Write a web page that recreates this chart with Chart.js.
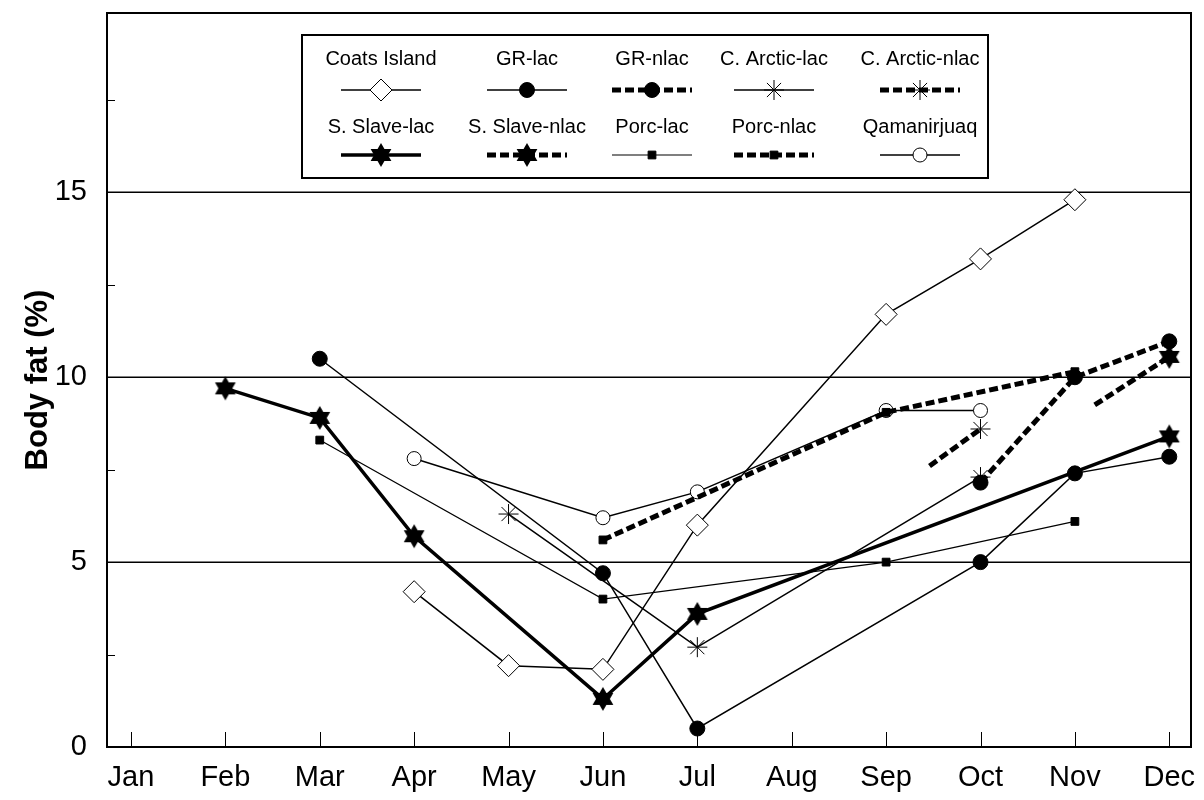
<!DOCTYPE html>
<html>
<head>
<meta charset="utf-8">
<script src="https://cdn.jsdelivr.net/npm/chart.js@4.4.1/dist/chart.umd.min.js"></script>
<style>
  html, body { margin: 0; padding: 0; background: #fff; }
  #wrap { width: 1204px; height: 800px; }
</style>
</head>
<body>
<div id="wrap"><canvas id="fat" width="1204" height="800"></canvas></div>
<script>
// Month names for the x axis (1 = Jan ... 12 = Dec)
const months = ['Jan', 'Feb', 'Mar', 'Apr', 'May', 'Jun', 'Jul', 'Aug', 'Sep', 'Oct', 'Nov', 'Dec'];
const yLabelTicks = [0, 5, 10, 15];
const yMinorTicks = [2.5, 7.5, 12.5, 17.5];

// Body fat (%) by month for each herd / reproductive class
const coatsMonths = [4, 5, 6, 7, 9, 10, 11];
const coatsFat = [4.2, 2.2, 2.1, 6.0, 11.7, 13.2, 14.8];

const grLacMonths = [3, 6, 7, 10, 11, 12];
const grLacFat = [10.5, 4.7, 0.5, 5.0, 7.4, 7.85];

const grNlacMonths = [10, 11, 12];
const grNlacFat = [7.15, 10.0, 10.97];

const cArcticLacMonths = [5, 7, 10];
const cArcticLacFat = [6.3, 2.7, 7.3];

const cArcticNlacMonths = [9.46, 10];
const cArcticNlacFat = [7.6, 8.6];

const sSlaveLacMonths = [2, 3, 4, 6, 7, 12];
const sSlaveLacFat = [9.7, 8.9, 5.7, 1.3, 3.6, 8.4];

const sSlaveNlacMonths = [11.21, 12];
const sSlaveNlacFat = [9.25, 10.55];

const porcLacMonths = [3, 6, 9, 11];
const porcLacFat = [8.3, 4.0, 5.0, 6.1];

const porcNlacMonths = [6, 9, 11];
const porcNlacFat = [5.6, 9.05, 10.15];

const qamMonths = [4, 6, 7, 9, 10];
const qamFat = [7.8, 6.2, 6.9, 9.1, 9.1];

function pairs(xs, ys) {
  return xs.map((m, i) => ({ x: m, y: ys[i] }));
}

// Six-pointed filled star used for the S. Slave series
function makeHexagram(R) {
  const s = Math.ceil(R * 2 + 2);
  const c = document.createElement('canvas');
  c.width = s; c.height = s;
  const g = c.getContext('2d');
  g.fillStyle = '#000';
  const cx = s / 2, cy = s / 2;
  for (let t = 0; t < 2; t++) {
    g.beginPath();
    for (let k = 0; k < 3; k++) {
      const a = -Math.PI / 2 + t * Math.PI + k * 2 * Math.PI / 3;
      const px = cx + R * Math.cos(a), py = cy + R * Math.sin(a);
      if (k) g.lineTo(px, py); else g.moveTo(px, py);
    }
    g.closePath();
    g.fill();
  }
  return c;
}
const hexStar = makeHexagram(12);

const thin = 1.5, thick = 3.5, dashW = 5, dash = [9, 4];

// Marker only where a month was sampled; fractional positions only start a line
const onMonth = (r) => (ctx) => (ctx.raw && Number.isInteger(ctx.raw.x) ? r : 0);

function series(label, xs, ys, style) {
  return Object.assign({
    label,
    data: pairs(xs, ys),
    borderColor: '#000',
    pointBorderColor: '#000',
    backgroundColor: '#000',
    pointBackgroundColor: '#000',
    pointBorderWidth: 1,
    tension: 0,
    fill: false,
  }, style);
}

const datasets = [
  series('Coats Island', coatsMonths, coatsFat,
    { borderWidth: thin, pointStyle: 'rectRot', pointRadius: onMonth(11), pointBackgroundColor: '#fff', pointBorderWidth: 1 }),
  series('GR-lac', grLacMonths, grLacFat,
    { borderWidth: thin, pointStyle: 'circle', pointRadius: onMonth(7.5) }),
  series('GR-nlac', grNlacMonths, grNlacFat,
    { borderWidth: dashW, borderDash: dash, pointStyle: 'circle', pointRadius: onMonth(7.5) }),
  series('C. Arctic-lac', cArcticLacMonths, cArcticLacFat,
    { borderWidth: thin, pointStyle: 'star', pointRadius: onMonth(10), pointBorderWidth: 1 }),
  series('C. Arctic-nlac', cArcticNlacMonths, cArcticNlacFat,
    { borderWidth: dashW, borderDash: dash, pointStyle: 'star', pointRadius: onMonth(10), pointBorderWidth: 1 }),
  series('S. Slave-lac', sSlaveLacMonths, sSlaveLacFat,
    { borderWidth: thick, pointStyle: hexStar, pointRadius: onMonth(12) }),
  series('S. Slave-nlac', sSlaveNlacMonths, sSlaveNlacFat,
    { borderWidth: dashW, borderDash: dash, pointStyle: hexStar, pointRadius: onMonth(12) }),
  series('Porc-lac', porcLacMonths, porcLacFat,
    { borderWidth: 1.2, pointStyle: 'rect', pointRadius: onMonth(5.5) }),
  series('Porc-nlac', porcNlacMonths, porcNlacFat,
    { borderWidth: dashW, borderDash: dash, pointStyle: 'rect', pointRadius: onMonth(5.5) }),
  series('Qamanirjuaq', qamMonths, qamFat,
    { borderWidth: thin, pointStyle: 'circle', pointRadius: onMonth(7), pointBackgroundColor: '#fff', pointBorderWidth: 1 }),
];

// Plot frame, gridlines and inward tick marks
const framePlugin = {
  id: 'frame',
  beforeDatasetsDraw(chart) {
    const { ctx, chartArea: { left, right, top, bottom }, scales: { x, y } } = chart;
    ctx.save();
    ctx.strokeStyle = '#000';
    ctx.lineWidth = 1.5;
    yLabelTicks.filter(v => v > 0).forEach(v => {
      const py = Math.round(y.getPixelForValue(v)) + 0.25;
      ctx.beginPath(); ctx.moveTo(left, py); ctx.lineTo(right, py); ctx.stroke();
    });
    ctx.lineWidth = 1;
    yMinorTicks.forEach(v => {
      const py = Math.round(y.getPixelForValue(v)) + 0.5;
      ctx.beginPath(); ctx.moveTo(left, py); ctx.lineTo(left + 8, py); ctx.stroke();
    });
    months.forEach((m, i) => {
      const px = Math.round(x.getPixelForValue(i + 1)) + 0.5;
      ctx.beginPath(); ctx.moveTo(px, bottom); ctx.lineTo(px, bottom - 15); ctx.stroke();
    });
    ctx.lineWidth = 2;
    ctx.strokeRect(left, top, right - left, bottom - top);
    ctx.restore();
  }
};

// Boxed legend: name above a sample of the line with its marker
const legendPlugin = {
  id: 'boxLegend',
  afterDraw(chart) {
    const ctx = chart.ctx;
    const box = { x: 302, y: 35, w: 686, h: 143 };
    const cols = [381, 527, 652, 774, 920];
    const textY = [59, 127];
    const lineY = [90, 155];
    const half = 40;
    ctx.save();
    ctx.fillStyle = '#fff';
    ctx.fillRect(box.x, box.y, box.w, box.h);
    ctx.strokeStyle = '#000';
    ctx.lineWidth = 2;
    ctx.strokeRect(box.x, box.y, box.w, box.h);
    chart.data.datasets.forEach((ds, i) => {
      const cx = cols[i % 5], row = Math.floor(i / 5);
      ctx.fillStyle = '#000';
      ctx.font = '20px "Liberation Sans", Arial, sans-serif';
      ctx.textAlign = 'center';
      ctx.textBaseline = 'middle';
      ctx.fillText(ds.label, cx, textY[row]);
      ctx.save();
      ctx.strokeStyle = '#000';
      ctx.lineWidth = ds.borderWidth;
      ctx.setLineDash(ds.borderDash || []);
      ctx.beginPath();
      ctx.moveTo(cx - half, lineY[row]);
      ctx.lineTo(cx + half, lineY[row]);
      ctx.stroke();
      ctx.restore();
      const meta = chart.getDatasetMeta(i);
      const pt = meta.data.find(p => p.options.radius > 0);
      if (pt) {
        const o = pt.options;
        ctx.save();
        ctx.fillStyle = o.backgroundColor;
        ctx.strokeStyle = o.borderColor;
        ctx.lineWidth = o.borderWidth;
        Chart.helpers.drawPoint(ctx, { pointStyle: o.pointStyle, radius: o.radius, rotation: 0, borderWidth: o.borderWidth }, cx, lineY[row]);
        ctx.restore();
      }
    });
    ctx.restore();
  }
};

const tickFont = { family: '"Liberation Sans", Arial, sans-serif', size: 29 };

// Fixed axis sizes so the plot frame sits at a known place
function fixBox(s, key, val) {
  s[key] = val;
  s.paddingTop = 0; s.paddingBottom = 0; s.paddingLeft = 0; s.paddingRight = 0;
}

new Chart(document.getElementById('fat'), {
  type: 'line',
  data: { datasets },
  options: {
    responsive: false,
    animation: false,
    devicePixelRatio: 1,
    events: [],
    layout: { padding: { left: 0, right: 12, top: 10, bottom: 0 } },
    plugins: { legend: { display: false }, tooltip: { enabled: false } },
    scales: {
      x: {
        type: 'linear',
        min: 0.746,
        max: 12.23,
        grid: { display: false, drawTicks: false },
        border: { display: false },
        afterBuildTicks: (s) => { s.ticks = months.map((m, i) => ({ value: i + 1 })); },
        afterFit: (s) => fixBox(s, 'height', 53),
        ticks: {
          autoSkip: false, maxRotation: 0, color: '#000', font: tickFont, padding: 14,
          callback: (v) => months[v - 1]
        }
      },
      y: {
        type: 'linear',
        min: 0,
        max: 19.85,
        grid: { display: false, drawTicks: false },
        border: { display: false },
        afterBuildTicks: (s) => { s.ticks = yLabelTicks.map(v => ({ value: v })); },
        afterFit: (s) => fixBox(s, 'width', 107),
        ticks: { color: '#000', font: tickFont, padding: 20 },
        title: {
          display: true,
          text: 'Body fat (%)',
          color: '#000',
          font: { family: '"Liberation Sans", Arial, sans-serif', size: 31, weight: 'bold' },
          padding: { top: 20, bottom: 0 }
        }
      }
    }
  },
  plugins: [framePlugin, legendPlugin]
});
</script>
</body>
</html>
